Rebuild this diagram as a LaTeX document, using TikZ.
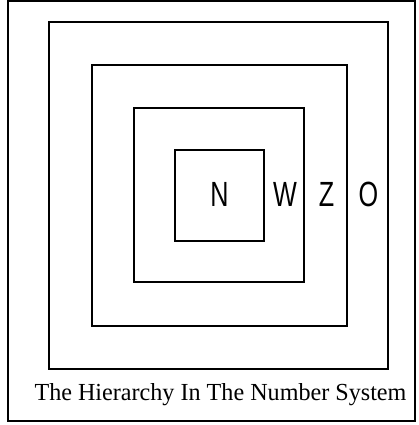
\documentclass[tikz,border=0pt]{standalone}
\usepackage{fontspec}
\setmainfont{Liberation Serif}
\newfontfamily\lettersfont{Liberation Sans}
\usetikzlibrary{positioning, calc}

\begin{document}
\begin{tikzpicture}[
    x=1pt, y=1pt,
    frame/.style={
        draw,
        line width=1.4pt,
        minimum width=407pt,
        minimum height=420pt,
        inner sep=0pt,
    },
    ring/.style={
        draw,
        line width=2pt,
        inner sep=0pt,
    },
    letter/.style={
        font=\lettersfont\fontsize{35}{35}\selectfont,
        xscale=0.72,
        inner sep=0pt,
    },
    caption/.style={
        font=\fontsize{24.5}{25}\selectfont,
        xscale=0.985,
        inner sep=0pt,
    },
]

    \useasboundingbox (0,0) rectangle (418,425);

    \node[frame] (box) at (211.5,214) {};
    \node[ring, minimum width=339pt, minimum height=347pt] (outer) at (218.5,229.5) {};
    \node[ring, minimum width=255pt, minimum height=261pt] (whole) at (219.5,229.5) {};
    \node[ring, minimum width=170pt, minimum height=174pt] (integer) at (219,230) {};
    \node[ring, minimum width=89pt, minimum height=91pt] (natural) at (219.5,229.5) {};

    % letters sit between the right edges
    \node[letter] (n) at ($(natural.center)+(0,1)$) {N};
    \node[letter] (w) at ($(natural.east)!0.5!(integer.east)+(0,1)$) {W};
    \node[letter] (z) at ($(integer.east)!0.5!(whole.east)+(0,1)$) {Z};
    \node[letter] (o) at ($(whole.east)!0.5!(outer.east)+(0,1)$) {O};

    \node[caption, below=13pt of outer, xshift=2pt] (title) {The Hierarchy In The Number System};

\end{tikzpicture}
\end{document}
